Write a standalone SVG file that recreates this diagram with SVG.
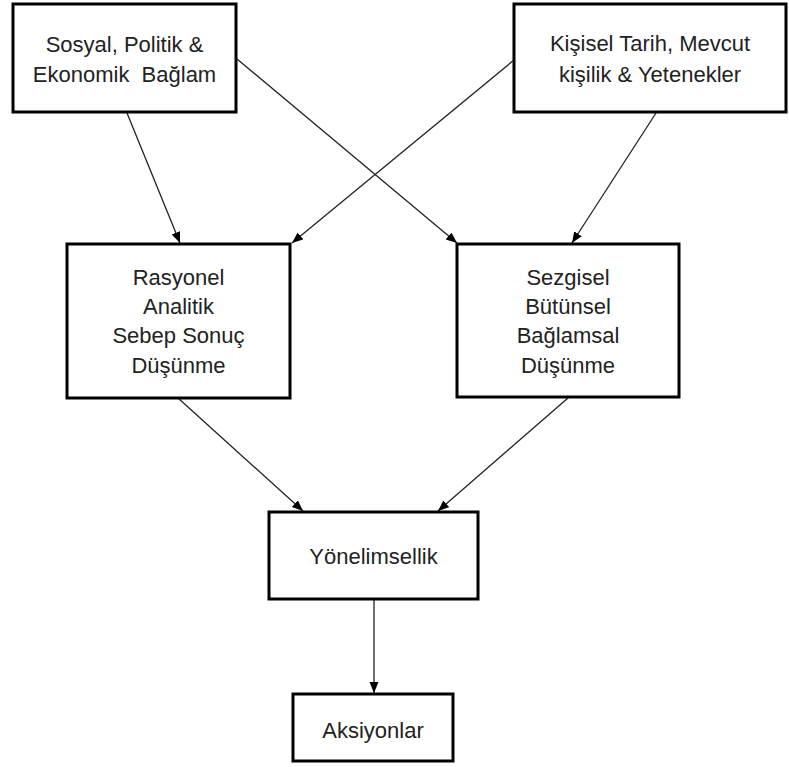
<svg xmlns="http://www.w3.org/2000/svg" width="789" height="767" viewBox="0 0 789 767">
<style>
.box{fill:#fff;stroke:#000;stroke-width:3}
.lbl{font-family:"Liberation Sans",Arial,sans-serif;font-size:22px;fill:#222;text-anchor:middle}
.con{stroke:#222;stroke-width:1.3;fill:none;marker-end:url(#ah)}
</style>
<defs>
<marker id="ah" markerUnits="userSpaceOnUse" markerWidth="12" markerHeight="10" refX="11" refY="4.5" orient="auto">
<path d="M0,0 L11,4.5 L0,9 z" fill="#000"/>
</marker>
</defs>
<rect width="789" height="767" fill="#fff"/>
<g id="connectors">
<line class="con" x1="127" y1="113" x2="180" y2="243"/>
<line class="con" x1="237" y1="59" x2="457" y2="243"/>
<line class="con" x1="514" y1="60" x2="292" y2="243"/>
<line class="con" x1="656" y1="113" x2="572" y2="243"/>
<line class="con" x1="178" y1="398" x2="303" y2="511"/>
<line class="con" x1="568" y1="398" x2="438" y2="511"/>
<line class="con" x1="374" y1="600" x2="374" y2="693"/>
</g>
<g id="sosyal">
<rect class="box" x="13" y="4" width="223" height="108"/>
<text class="lbl" x="124.5" y="52">Sosyal, Politik &amp;</text>
<text class="lbl" x="124.5" y="82" xml:space="preserve">Ekonomik  Bağlam</text>
</g>
<g id="kisisel">
<rect class="box" x="514" y="4" width="272" height="108"/>
<text class="lbl" x="650" y="51">Kişisel Tarih, Mevcut</text>
<text class="lbl" x="650" y="82">kişilik &amp; Yetenekler</text>
</g>
<g id="rasyonel">
<rect class="box" x="67" y="244" width="223" height="154"/>
<text class="lbl" x="178.5" y="285">Rasyonel</text>
<text class="lbl" x="178.5" y="314">Analitik</text>
<text class="lbl" x="178.5" y="343">Sebep Sonuç</text>
<text class="lbl" x="178.5" y="373">Düşünme</text>
</g>
<g id="sezgisel">
<rect class="box" x="457" y="244" width="222" height="153"/>
<text class="lbl" x="568" y="285">Sezgisel</text>
<text class="lbl" x="568" y="314">Bütünsel</text>
<text class="lbl" x="568" y="343">Bağlamsal</text>
<text class="lbl" x="568" y="373">Düşünme</text>
</g>
<g id="yonelimsellik">
<rect class="box" x="269" y="512" width="209" height="87"/>
<text class="lbl" x="373.5" y="564">Yönelimsellik</text>
</g>
<g id="aksiyonlar">
<rect class="box" x="293" y="694" width="160" height="67"/>
<text class="lbl" x="373" y="738">Aksiyonlar</text>
</g>
</svg>
